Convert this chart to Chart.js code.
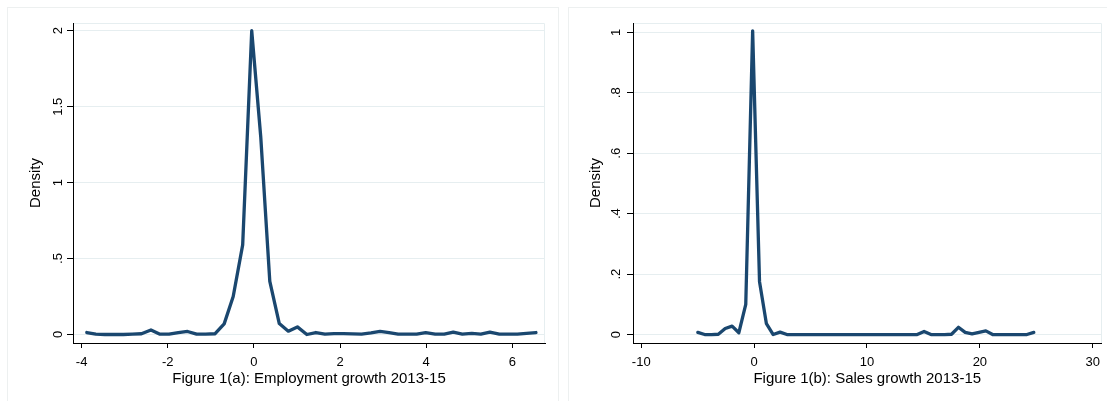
<!DOCTYPE html>
<html>
<head>
<meta charset="utf-8">
<script src="https://cdn.jsdelivr.net/npm/chart.js@4.4.1/dist/chart.umd.min.js"></script>
<style>
  body { margin: 0; background: #fff; width: 1107px; height: 401px; overflow: hidden; position: relative; }
  .panel { position: absolute; top: 7px; height: 400px; border: 1px solid #edf0f0; border-bottom: none; box-sizing: border-box; }
  canvas { position: absolute; top: 0; }
</style>
</head>
<body>
<div class="panel" style="left:7px;width:552px"></div>
<div class="panel" style="left:568px;width:560px"></div>
<canvas id="empChart" width="556" height="401" style="left:0"></canvas>
<canvas id="salesChart" width="547" height="401" style="left:560px"></canvas>
<script>
// Figure 1(a): employment growth, kernel density points
const empGrowth = [-3.88, -3.67, -3.46, -3.25, -3.03, -2.82, -2.61, -2.39, -2.18, -1.97,
  -1.755, -1.54, -1.33, -1.12, -0.90, -0.69, -0.48, -0.26, -0.05, 0.16,
  0.37, 0.59, 0.80, 1.01, 1.23, 1.44, 1.65, 1.86, 2.08, 2.29,
  2.50, 2.72, 2.93, 3.14, 3.35, 3.57, 3.78, 3.99, 4.21, 4.42,
  4.63, 4.84, 5.06, 5.27, 5.48, 5.70, 5.91, 6.12, 6.33, 6.55];
const empDensity = [0.013, 0.002, 0.0, 0.0, 0.0, 0.003, 0.005, 0.03, 0.002, 0.002,
  0.013, 0.02, 0.002, 0.002, 0.005, 0.07, 0.25, 0.59, 2.0, 1.3,
  0.35, 0.072, 0.022, 0.05, 0.0, 0.013, 0.002, 0.006, 0.006, 0.004,
  0.002, 0.01, 0.02, 0.012, 0.002, 0.002, 0.002, 0.012, 0.002, 0.002,
  0.015, 0.002, 0.008, 0.002, 0.015, 0.002, 0.002, 0.002, 0.008, 0.013];

// Figure 1(b): sales growth
const salesGrowth = [-4.99, -4.38, -3.77, -3.17, -2.56, -1.95, -1.35, -0.74, -0.13, 0.48,
  1.09, 1.69, 2.30, 2.91, 3.52, 4.12, 4.73, 5.34, 5.95, 6.55,
  7.16, 7.77, 8.38, 8.98, 9.59, 10.20, 10.81, 11.41, 12.02, 12.63,
  13.24, 13.84, 14.45, 15.06, 15.67, 16.27, 16.88, 17.49, 18.10, 18.70,
  19.31, 19.92, 20.53, 21.13, 21.74, 22.35, 22.96, 23.56, 24.17, 24.78];
const salesDensity = [0.007, 0.0, 0.0, 0.001, 0.02, 0.028, 0.006, 0.10, 1.005, 0.175,
  0.036, 0.0, 0.008, 0.0, 0.0, 0.0, 0.0, 0.0, 0.0, 0.0,
  0.0, 0.0, 0.0, 0.0, 0.0, 0.0, 0.0, 0.0, 0.0, 0.0,
  0.0, 0.0, 0.0, 0.01, 0.0, 0.0, 0.0, 0.001, 0.024, 0.007,
  0.002, 0.007, 0.012, 0.0, 0.0, 0.0, 0.0, 0.0, 0.0, 0.007];

const empXTicks = [-4, -2, 0, 2, 4, 6];
const salesXTicks = [-10, 0, 10, 20, 30];
const empYTicks = [0, 0.5, 1, 1.5, 2];
const empYLabels = ['0', '.5', '1', '1.5', '2'];
const salesYTicks = [0, 0.2, 0.4, 0.6, 0.8, 1];
const salesYLabels = ['0', '.2', '.4', '.6', '.8', '1'];

const lineColor = '#1a476f';
const gridColor = '#e6eef0';
const tickFont = { family: "'Liberation Sans', Arial, sans-serif", size: 13 };
const titleFont = { family: "'Liberation Sans', Arial, sans-serif", size: 15 };

// light outline on the top and right of the plot region
const plotOutline = {
  id: 'plotOutline',
  beforeDraw(chart) {
    const { ctx, chartArea: a } = chart;
    ctx.save();
    ctx.strokeStyle = gridColor;
    ctx.lineWidth = 1;
    ctx.beginPath();
    ctx.moveTo(Math.round(a.left), Math.round(a.top) + 0.5);
    ctx.lineTo(Math.round(a.right) - 0.5, Math.round(a.top) + 0.5);
    ctx.lineTo(Math.round(a.right) - 0.5, Math.round(a.bottom));
    ctx.stroke();
    ctx.restore();
  }
};

function densityChart(id, xs, ys, opts) {
  const points = xs.map((x, i) => ({ x: x, y: ys[i] }));
  return new Chart(document.getElementById(id), {
    type: 'line',
    data: {
      datasets: [{
        data: points,
        borderColor: lineColor,
        borderWidth: 3.3,
        pointRadius: 0,
        tension: 0,
        fill: false,
        borderJoinStyle: 'round',
        borderCapStyle: 'round'
      }]
    },
    options: {
      responsive: false,
      animation: false,
      devicePixelRatio: 1,
      layout: { padding: { left: 0, top: 23, right: opts.padRight, bottom: 0 } },
      plugins: { legend: { display: false }, tooltip: { enabled: false } },
      scales: {
        x: {
          type: 'linear',
          min: opts.xMin,
          max: opts.xMax,
          afterBuildTicks: s => { s.ticks = opts.xTicks.map(v => ({ value: v })); },
          afterFit: s => { s.height = 58; },
          grid: { drawOnChartArea: false, tickLength: 5, tickColor: '#000', color: '#000' },
          border: { color: '#000', width: 1 },
          ticks: { color: '#000', font: tickFont, padding: 7, maxRotation: 0, autoSkip: false, callback: v => String(v) },
          title: { display: true, text: opts.title, color: '#000', font: titleFont, padding: { top: 0, bottom: 13 } }
        },
        y: {
          type: 'linear',
          min: opts.yMin,
          max: opts.yMax,
          afterBuildTicks: s => { s.ticks = opts.yTicks.map(v => ({ value: v })); },
          afterFit: s => { s.width = 73; },
          grid: { color: gridColor, tickLength: 6, tickColor: '#000', lineWidth: 1 },
          border: { color: '#000', width: 1 },
          ticks: {
            color: '#000', font: tickFont, padding: opts.yPad,
            minRotation: 90, maxRotation: 90, crossAlign: 'center', autoSkip: false,
            callback: (v, i) => opts.yLabels[i]
          },
          title: { display: true, text: 'Density', color: '#000', font: titleFont, padding: { top: 27, bottom: 0 } }
        }
      }
    },
    plugins: [plotOutline]
  });
}

densityChart('empChart', empGrowth, empDensity, {
  xMin: -4.2, xMax: 6.76, yMin: -0.056, yMax: 2.051,
  xTicks: empXTicks, yTicks: empYTicks, yLabels: empYLabels,
  yPad: 0, padRight: 11,
  title: 'Figure 1(a): Employment growth 2013-15'
});

densityChart('salesChart', salesGrowth, salesDensity, {
  xMin: -10.73, xMax: 30.78, yMin: -0.028, yMax: 1.031,
  xTicks: salesXTicks, yTicks: salesYTicks, yLabels: salesYLabels,
  yPad: 4.8, padRight: 2,
  title: 'Figure 1(b): Sales growth 2013-15'
});
</script>
</body>
</html>
